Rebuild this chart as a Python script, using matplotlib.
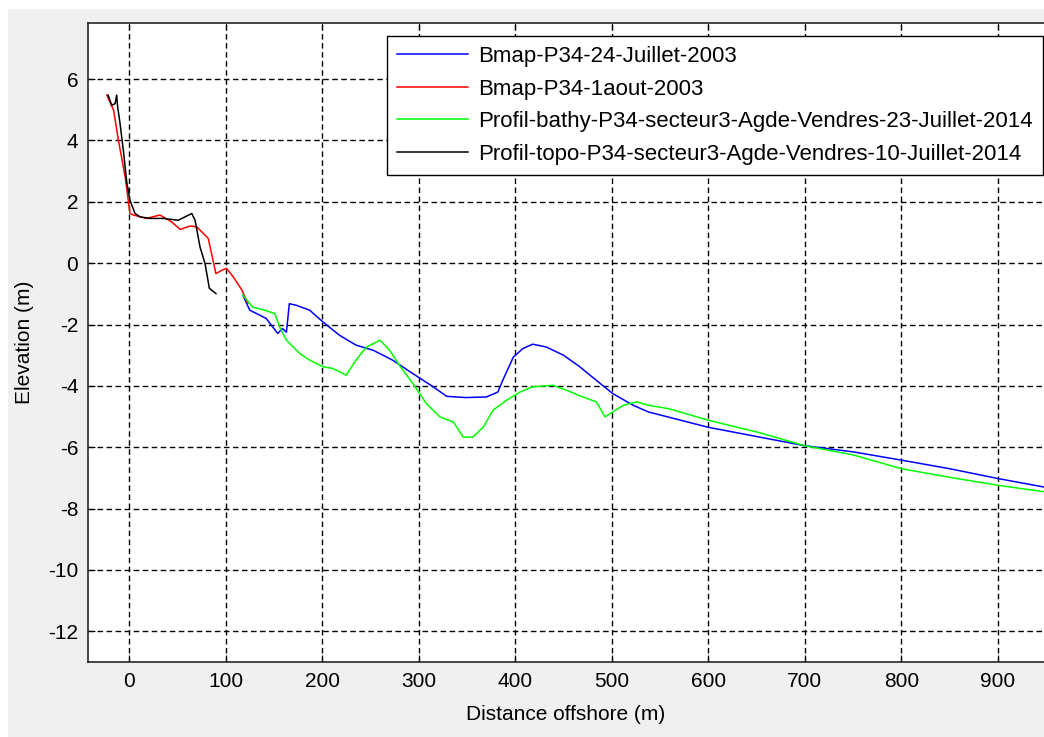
import matplotlib.pyplot as plt
from matplotlib.patches import Rectangle

# Bmap-P34-24-Juillet-2003 (blue)
blue_x = [118, 125, 142, 154, 159, 163, 166, 173, 187, 201, 218, 235, 253, 273, 294, 315,
          329, 349, 370, 382, 387, 398, 408, 418, 432, 450, 467, 484, 501, 522, 538,
          600, 650, 700, 750, 800, 850, 900, 950]
blue_y = [-1.05, -1.53, -1.80, -2.29, -2.13, -2.25, -1.32, -1.37, -1.53, -1.92, -2.35, -2.67,
          -2.84, -3.16, -3.60, -4.03, -4.34, -4.38, -4.36, -4.20, -3.82, -3.06, -2.78, -2.64,
          -2.73, -3.00, -3.38, -3.82, -4.25, -4.63, -4.85,
          -5.35, -5.65, -5.95, -6.15, -6.42, -6.70, -7.02, -7.31]

# Bmap-P34-1aout-2003 (red)
red_x = [-23, -16, -11, -4, 1, 4.5, 18, 32, 44, 53, 63, 70, 77, 82, 90, 96, 101, 108, 117, 123]
red_y = [5.48, 4.99, 4.01, 2.81, 1.62, 1.57, 1.46, 1.57, 1.35, 1.10, 1.21, 1.19, 0.97, 0.81,
         -0.34, -0.23, -0.17, -0.45, -0.88, -1.31]

# Profil-bathy-P34-secteur3-Agde-Vendres-23-Juillet-2014 (green)
green_x = [118, 128, 140, 151, 156, 163, 177, 187, 201, 211, 225, 235, 246, 260, 270, 280,
           294, 308, 322, 336, 346, 356, 367, 377, 391, 405, 418, 439, 453, 470, 484, 493,
           501, 512, 526, 538, 560, 600, 650, 700, 750, 800, 850, 900, 950]
green_y = [-1.04, -1.43, -1.53, -1.64, -2.08, -2.51, -2.95, -3.16, -3.38, -3.43, -3.65, -3.16,
           -2.73, -2.51, -2.84, -3.33, -3.92, -4.58, -5.01, -5.18, -5.67, -5.67, -5.34, -4.79,
           -4.47, -4.20, -4.03, -3.98, -4.14, -4.36, -4.52, -5.01, -4.85, -4.63, -4.52, -4.63,
           -4.75, -5.12, -5.50, -5.95, -6.25, -6.70, -6.98, -7.24, -7.46]

# Profil-topo-P34-secteur3-Agde-Vendres-10-Juillet-2014 (black)
black_x = [-21.7, -18, -14.5, -12.8, -12, -9.3, -5.9, -2.4, 1, 6.2, 11.4, 21.7, 35.5, 51,
           65, 68.4, 73.5, 78.7, 83.2, 90]
black_y = [5.48, 5.15, 5.20, 5.48, 5.15, 4.55, 3.68, 2.65, 2.05, 1.62, 1.51, 1.46, 1.46, 1.40,
           1.62, 1.40, 0.53, -0.01, -0.82, -0.99]

labels = ['Bmap-P34-24-Juillet-2003', 'Bmap-P34-1aout-2003',
          'Profil-bathy-P34-secteur3-Agde-Vendres-23-Juillet-2014',
          'Profil-topo-P34-secteur3-Agde-Vendres-10-Juillet-2014']

plt.rcParams['font.family'] = ['Liberation Sans', 'DejaVu Sans']
plt.rcParams['axes.unicode_minus'] = False

fig = plt.figure(figsize=(10.44, 7.37), dpi=100, facecolor='white')
fig.patches.append(Rectangle((8 / 1044, 0), 1, 1 - 9 / 737, transform=fig.transFigure,
                             facecolor='#f0f0f0', edgecolor='none', zorder=-10))

ax = fig.add_axes([88 / 1044, 1 - 662 / 737, 1 - 88 / 1044, (662 - 23) / 737])
ax.plot(blue_x, blue_y, color='#0000ff', lw=1.1, label=labels[0])
ax.plot(red_x, red_y, color='#ff0000', lw=1.1, label=labels[1])
ax.plot(green_x, green_y, color='#00ff00', lw=1.1, label=labels[2])
ax.plot(black_x, black_y, color='black', lw=1.1, label=labels[3])

ax.set_xlim(-42.5, 947.6)
ax.set_ylim(-13, 7.83)
ax.set_xticks(range(0, 901, 100))
ax.set_yticks(range(-12, 7, 2))
ax.tick_params(direction='in', length=5, top=True, right=False, labelsize=15, pad=7)
ax.spines['right'].set_visible(False)
for s in ['left', 'bottom', 'top']:
    ax.spines[s].set_linewidth(1.2)
    ax.spines[s].set_color('#262626')
ax.grid(True, color='black', linestyle=(0, (4, 2.5)), linewidth=1.0)
ax.set_xlabel('Distance offshore (m)', fontsize=15, labelpad=10)
ax.set_ylabel('Elevation (m)', fontsize=15, labelpad=10)

leg = ax.legend(loc='upper right', fontsize=16, frameon=True, fancybox=False,
                borderaxespad=0, borderpad=0.45, handlelength=3.2, handletextpad=0.45,
                labelspacing=0.52, bbox_to_anchor=((1043 - 88) / 956, 1 - 13 / 639))
leg.get_frame().set_edgecolor('black')
leg.get_frame().set_linewidth(1.0)
leg.get_frame().set_alpha(1)

fig.savefig('out.png', dpi=100, facecolor=fig.get_facecolor())
